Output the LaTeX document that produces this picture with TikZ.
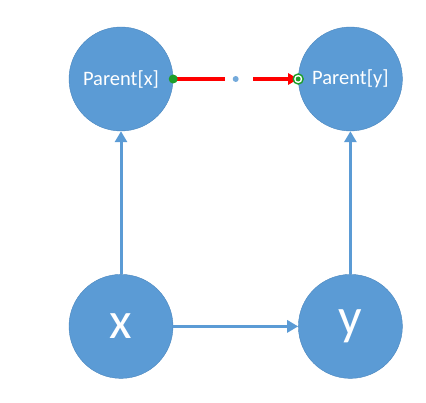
\documentclass[tikz,border=0pt]{standalone}
\usepackage{fontspec}
\setmainfont{Carlito}
\usepackage{tikz}
\usetikzlibrary{arrows.meta, positioning, calc}
\definecolor{nodeblue}{HTML}{5B9BD5}
\definecolor{rimblue}{HTML}{4A86BE}
\definecolor{dotgreen}{HTML}{1E9E2A}
\tikzset{
        parent/.style={circle, draw=rimblue, line width=0.4pt, fill=nodeblue, minimum size=104pt, inner sep=0pt, text=white, font=\fontsize{20.5}{20.5}\selectfont},
        var/.style={circle, draw=rimblue, line width=0.4pt, fill=nodeblue, minimum size=104pt, inner sep=0pt, text=white, font=\fontsize{52}{52}\selectfont},
        link/.style={-{Triangle[length=11pt, width=12pt]}, line width=3pt, draw=nodeblue},
        findlink/.style={-{Triangle[length=10pt, width=11pt]}, line width=3.2pt, draw=red},
    }
\begin{document}
\begin{tikzpicture}[x=1pt, y=1pt]
        \useasboundingbox (0,0) rectangle (426,-403);

        % === PARENTS ===
        \node[parent] (parentx) at (121,-79) {Parent[x]};
        \node[parent, right=125pt of parentx] (parenty) {Parent[y]};

        % === ELEMENTS ===
        \node[var, below=143pt of parentx] (x) {x};
        \node[var, below=143pt of parenty] (y) {y};

        \draw[link] (x) -- (parentx);
        \draw[link] (y) -- (parenty);
        \draw[link] (x) -- (y);

        % union link between the roots, broken in the middle
        \coordinate (mid) at ($(parentx.east)!0.5!(parenty.west)$);
        \draw[red, line width=3.2pt, shorten >=10.5pt] (parentx.east) -- (mid);
        \draw[findlink, shorten <=17.5pt] (mid) -- (parenty.west);
        \fill[nodeblue!85] (mid) circle (3pt);

        % end points
        \fill[dotgreen] (parentx.east) circle (4.5pt);
        \draw[dotgreen, fill=white, line width=1.4pt] (parenty.west) circle (5pt);
        \fill[dotgreen] (parenty.west) circle (2.5pt);

    \end{tikzpicture}
\end{document}
